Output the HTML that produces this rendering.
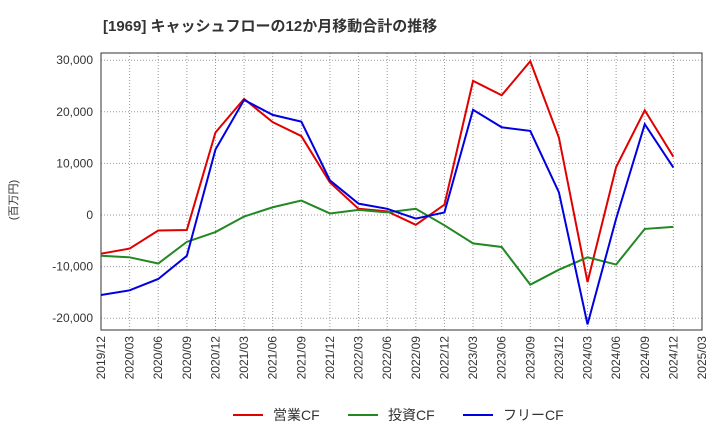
<!DOCTYPE html>
<html><head><meta charset="utf-8"><style>
body{margin:0;background:#fff;font-family:"Liberation Sans","Noto Sans CJK JP",sans-serif;}
svg text{font-family:"Liberation Sans","Noto Sans CJK JP",sans-serif;}
</style></head><body>
<svg id="c" width="720" height="440">
<text x="103" y="31" font-size="15" font-weight="bold" fill="#333">[1969]  キャッシュフローの12か月移動合計の推移</text>
<text transform="translate(17,200) rotate(-90)" font-size="11" fill="#333" text-anchor="middle">(百万円)</text>
<g id="grid"></g><g id="axes"></g><g id="series"></g><g id="legend"></g>
</svg>
<script>
const categories=["2019/12","2020/03","2020/06","2020/09","2020/12","2021/03","2021/06","2021/09","2021/12","2022/03","2022/06","2022/09","2022/12","2023/03","2023/06","2023/09","2023/12","2024/03","2024/06","2024/09","2024/12","2025/03"];
const operatingCF=[-7500,-6500,-3000,-2900,16000,22500,18000,15300,6300,1200,700,-1900,2000,26000,23200,29800,15000,-13000,9300,20300,11300];
const investingCF=[-7900,-8200,-9400,-5200,-3300,-300,1500,2800,300,1000,500,1200,-2000,-5500,-6200,-13500,-10600,-8200,-9600,-2700,-2300];
const freeCF=[-15500,-14600,-12400,-7900,12700,22300,19400,18100,6700,2200,1200,-700,500,20400,17000,16300,4400,-21200,-700,17600,9200];
const yTicks=[30000,20000,10000,0,-10000,-20000];
const seriesNames=["営業CF","投資CF","フリーCF"];
const NS="http://www.w3.org/2000/svg";
const L=101,R=702,T=53,B=330;
const x=i=>L+i*(R-L)/(categories.length-1);
const y=v=>215-v*51.6/10000;
function mk(t,a,p){const e=document.createElementNS(NS,t);for(const k in a)e.setAttribute(k,a[k]);p.appendChild(e);return e;}
const g=document.getElementById('grid'),ax=document.getElementById('axes'),s=document.getElementById('series'),lg=document.getElementById('legend');
categories.forEach((c,i)=>{
 const l=mk('line',{x1:x(i),x2:x(i),y1:T,y2:B,stroke:'#999','stroke-dasharray':'1,2'},g);
 
 
 const t=mk('text',{transform:`translate(${x(i)+4},${B+6}) rotate(-90)`,'font-size':12,fill:'#333','text-anchor':'end'},ax);
 t.textContent=c;
 
 
});
yTicks.forEach(v=>{
 const l=mk('line',{x1:L,x2:R,y1:y(v),y2:y(v),stroke:'#999','stroke-dasharray':'1,2'},g);
 
 
 const t=mk('text',{x:L-8,y:y(v)+4,'font-size':12,fill:'#333','text-anchor':'end'},ax);
 t.textContent=v.toLocaleString('en-US');
 
 
});
const f=mk('rect',{x:L,y:T,width:R-L,height:B-T,fill:'none',stroke:'#333'},ax);


const data=[operatingCF,investingCF,freeCF],cols=['#e00000','#228822','#0000e0'],ids=['operating-cf-line','investing-cf-line','free-cf-line'];
data.forEach((d,k)=>{
 const p=mk('polyline',{points:d.map((v,i)=>x(i)+','+y(v)).join(' '),fill:'none',stroke:cols[k],'stroke-width':2},s);
 
 
});
const lx=[233,348,463];
seriesNames.forEach((n,k)=>{
 const l=mk('line',{x1:lx[k],x2:lx[k]+30,y1:415,y2:415,stroke:cols[k],'stroke-width':2},lg);
 
 
 const t=mk('text',{x:lx[k]+40,y:420,'font-size':14,fill:'#333'},lg);
 t.textContent=n;
 
 
});
</script>
</body></html>
